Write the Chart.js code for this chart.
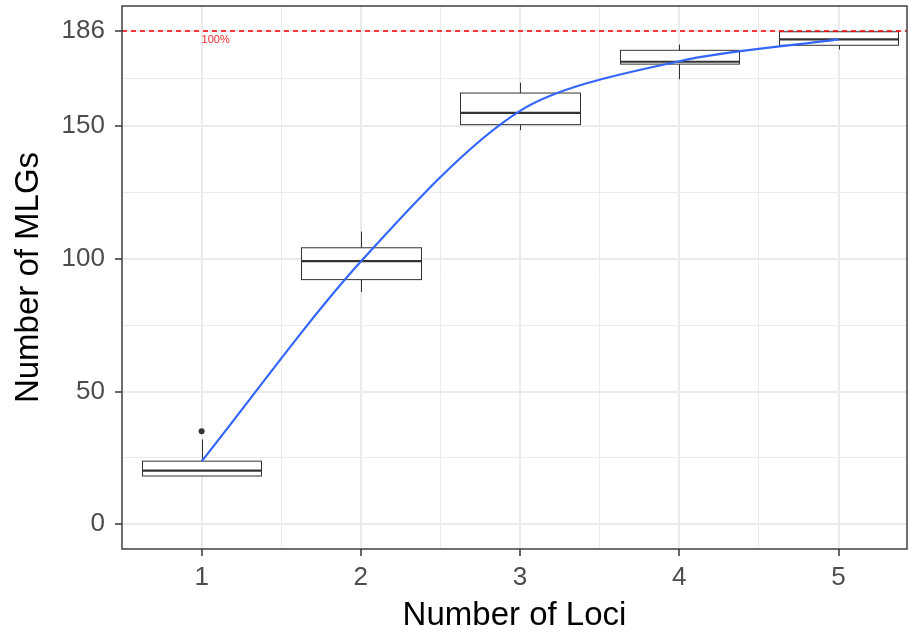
<!DOCTYPE html>
<html lang="en">
<head>
<meta charset="UTF-8">
<title>Number of MLGs by Number of Loci</title>
<script src="https://cdn.jsdelivr.net/npm/chart.js"></script>
<style>
  body { margin: 0; background: #fff; }
</style>
</head>
<body>
<canvas id="mlgChart" width="911" height="638"></canvas>
<script>
// boxplot stats per number of loci
const loci = [1, 2, 3, 4, 5];
const whiskerLow = [18.2, 87.5, 148.5, 167.7, 178.9];
const q1 = [18.2, 92.2, 150.6, 173.4, 180.5];
const medians = [20.2, 99.2, 155.0, 174.3, 182.7];
const q3 = [23.8, 104.2, 162.5, 178.6, 185.6];
const whiskerHigh = [32.0, 110.3, 166.4, 180.8, 185.6];
const outlierLoci = [1];
const outlierValues = [35.1];

// smoothed mean curve
const meanMLGs = [23.7, 99.0, 155.8, 174.5, 182.7];

const totalMLGs = 186;
const yMajorTicks = [0, 50, 100, 150, 186];
const yMinorTicks = [25, 75, 125, 168];
const xMajorTicks = [1, 2, 3, 4, 5];
const xMinorTicks = [1.5, 2.5, 3.5, 4.5];

const FONT = "'Liberation Sans', Arial, sans-serif";

const boxPlugin = {
    id: 'boxes',
    beforeDatasetsDraw(chart) {
        const ctx = chart.ctx;
        const xs = chart.scales.x;
        const ys = chart.scales.y;
        const area = chart.chartArea;
        ctx.save();

        // boxes
        const half = 0.375;
        loci.forEach((l, i) => {
            const xc = Math.round(xs.getPixelForValue(l)) + 0.5;
            const xl = Math.round(xs.getPixelForValue(l - half)) + 0.5;
            const xr = Math.round(xs.getPixelForValue(l + half)) + 0.5;
            const yLo = ys.getPixelForValue(whiskerLow[i]);
            const yHi = ys.getPixelForValue(whiskerHigh[i]);
            const yQ1 = ys.getPixelForValue(q1[i]);
            const yQ3 = ys.getPixelForValue(q3[i]);
            const yMed = ys.getPixelForValue(medians[i]);

            ctx.strokeStyle = '#333333';
            ctx.lineWidth = 1;
            ctx.beginPath();
            ctx.moveTo(xc, yHi); ctx.lineTo(xc, yQ3);
            ctx.moveTo(xc, yQ1); ctx.lineTo(xc, yLo);
            ctx.stroke();

            ctx.fillStyle = '#ffffff';
            ctx.fillRect(xl, yQ3, xr - xl, yQ1 - yQ3);
            ctx.strokeRect(xl, yQ3, xr - xl, yQ1 - yQ3);

            ctx.lineWidth = 2.2;
            ctx.beginPath();
            ctx.moveTo(xl, yMed); ctx.lineTo(xr, yMed);
            ctx.stroke();
        });

        // 100% reference line
        const yTot = Math.round(ys.getPixelForValue(totalMLGs));
        ctx.strokeStyle = '#ff0000';
        ctx.lineWidth = 1.3;
        ctx.setLineDash([5, 4]);
        ctx.beginPath();
        ctx.moveTo(area.left, yTot);
        ctx.lineTo(area.right, yTot);
        ctx.stroke();
        ctx.setLineDash([]);
        ctx.fillStyle = '#ff2a2a';
        ctx.font = '11px ' + FONT;
        ctx.textAlign = 'left';
        ctx.textBaseline = 'middle';
        ctx.fillText('100%', xs.getPixelForValue(1), yTot + 9);

        ctx.restore();
    },
    afterDraw(chart) {
        const ctx = chart.ctx;
        const a = chart.chartArea;
        ctx.save();
        ctx.strokeStyle = '#333333';
        ctx.lineWidth = 1.4;
        ctx.strokeRect(a.left, a.top, a.right - a.left, a.bottom - a.top);
        ctx.restore();
    }
};

const noPad = s => { s.paddingTop = 0; s.paddingBottom = 0; s.paddingLeft = 0; s.paddingRight = 0; };

const ctx = document.getElementById('mlgChart').getContext('2d');
const chart = new Chart(ctx, {
    type: 'line',
    data: {
        datasets: [{
            label: 'Mean',
            data: loci.map((l, i) => ({ x: l, y: meanMLGs[i] })),
            borderColor: '#3366FF',
            borderWidth: 2.2,
            pointRadius: 0,
            fill: false,
            tension: 0.3
        }, {
            label: 'Outliers',
            data: outlierLoci.map((l, i) => ({ x: l, y: outlierValues[i] })),
            showLine: false,
            pointRadius: 3,
            pointBackgroundColor: '#333333',
            pointBorderColor: '#333333',
            pointBorderWidth: 0
        }]
    },
    options: {
        responsive: false,
        animation: false,
        layout: { padding: { top: 6, right: 1, left: 0, bottom: 0 } },
        plugins: { legend: { display: false }, tooltip: { enabled: false } },
        scales: {
            x: {
                type: 'linear',
                min: 0.5,
                max: 5.43,
                afterBuildTicks: s => { s.ticks = xMajorTicks.concat(xMinorTicks).map(v => ({ value: v })); },
                afterFit: s => { s.height = 89; noPad(s); },
                ticks: {
                    padding: 6,
                    color: '#4D4D4D',
                    font: { family: FONT, size: 26 },
                    maxRotation: 0,
                    autoSkip: false,
                    callback: v => xMajorTicks.includes(v) ? String(v) : ''
                },
                grid: {
                    color: '#EBEBEB',
                    lineWidth: c => xMajorTicks.includes(c.tick.value) ? 2 : 1,
                    tickLength: 7,
                    tickColor: c => xMajorTicks.includes(c.tick.value) ? '#333333' : 'rgba(0,0,0,0)',
                    tickWidth: 1.5
                },
                border: { display: false },
                title: {
                    display: true,
                    text: 'Number of Loci',
                    color: '#000000',
                    font: { family: FONT, size: 33 },
                    padding: { top: 0, bottom: 2 }
                }
            },
            y: {
                type: 'linear',
                min: -9.3,
                max: 195.3,
                afterBuildTicks: s => { s.ticks = yMajorTicks.concat(yMinorTicks).sort((a, b) => a - b).map(v => ({ value: v })); },
                afterFit: s => { s.width = 122; noPad(s); },
                ticks: {
                    padding: 10,
                    color: '#4D4D4D',
                    font: { family: FONT, size: 26 },
                    autoSkip: false,
                    callback: v => yMajorTicks.includes(v) ? String(v) : ''
                },
                grid: {
                    color: '#EBEBEB',
                    lineWidth: c => yMajorTicks.includes(c.tick.value) ? 2 : 1,
                    tickLength: 7,
                    tickColor: c => yMajorTicks.includes(c.tick.value) ? '#333333' : 'rgba(0,0,0,0)',
                    tickWidth: 1.5
                },
                border: { display: false },
                title: {
                    display: true,
                    text: 'Number of MLGs',
                    color: '#000000',
                    font: { family: FONT, size: 33 },
                    padding: { top: 9, bottom: 0 }
                }
            }
        }
    },
    plugins: [boxPlugin]
});
</script>
</body>
</html>
